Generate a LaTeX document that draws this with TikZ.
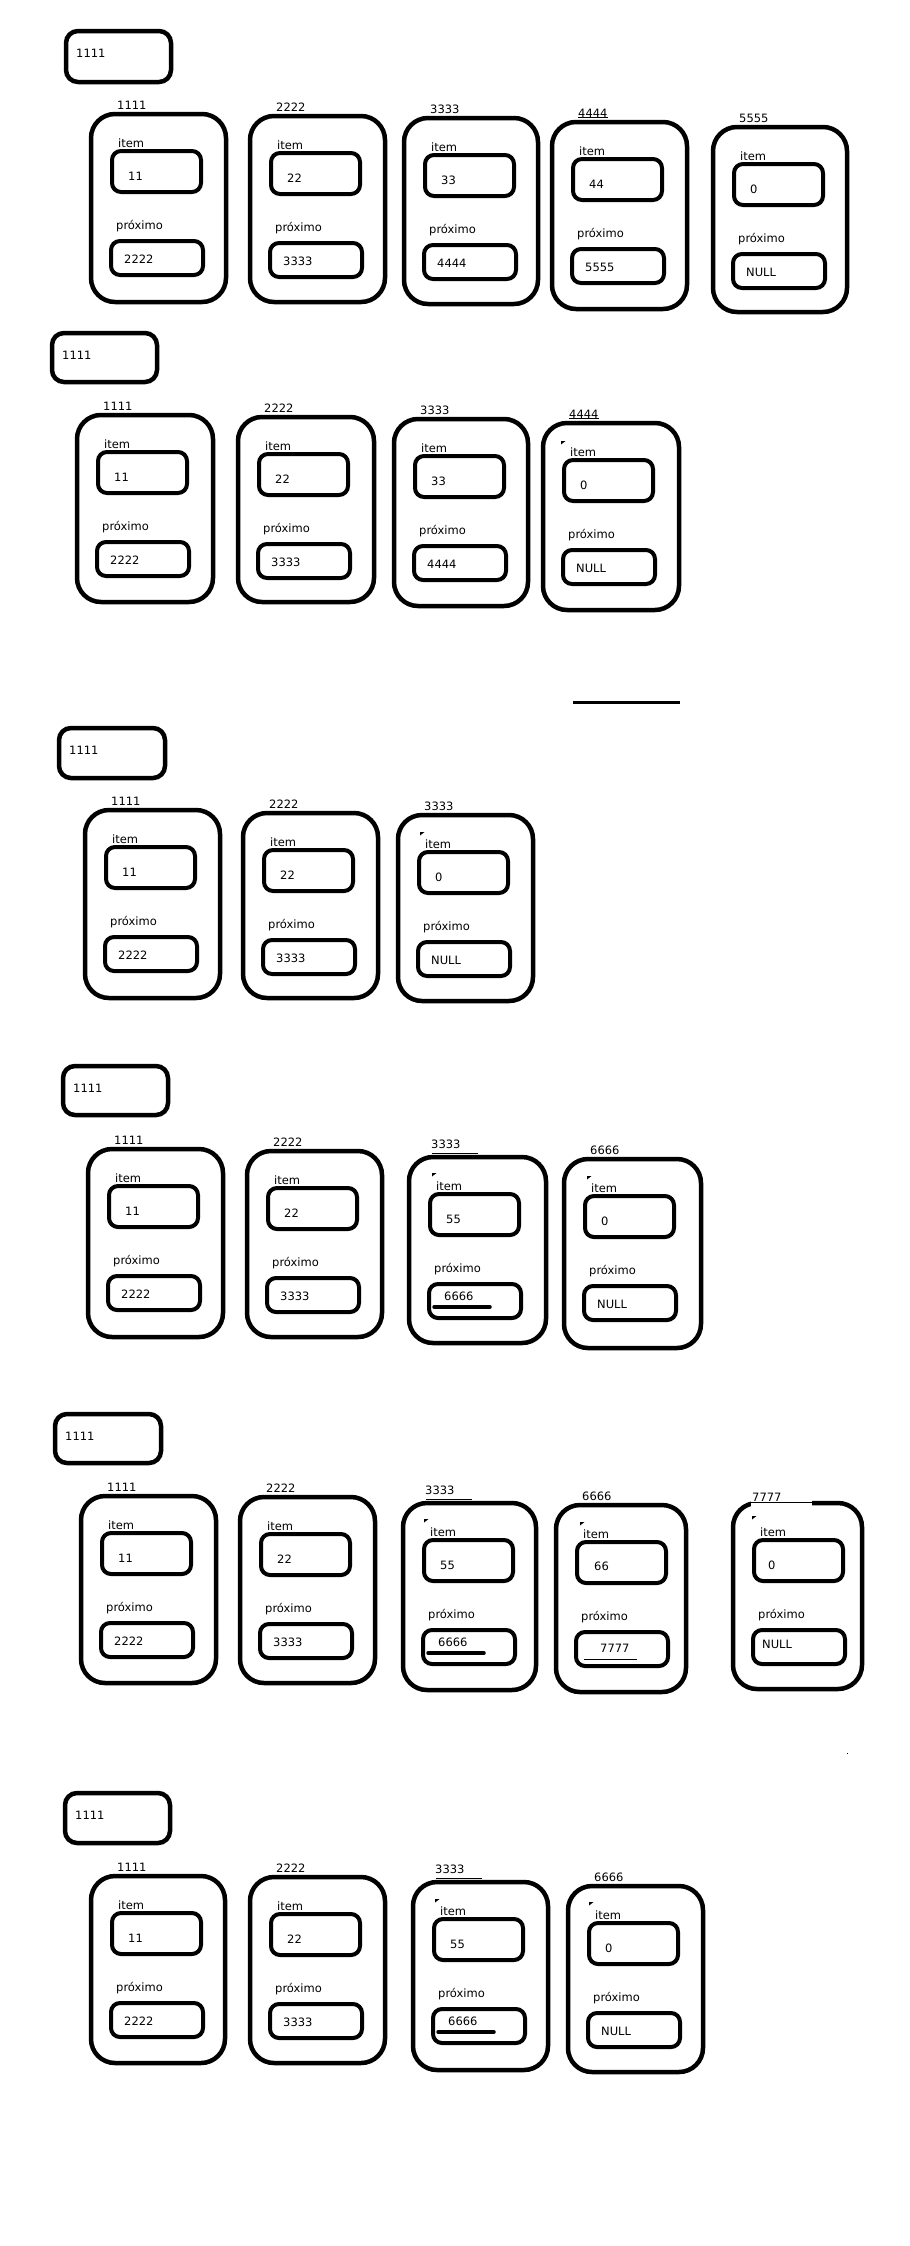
\documentclass[tikz,border=0pt]{standalone}
\usepackage{fontspec}
\setmainfont{DejaVu Sans}
\begin{document}
\begin{tikzpicture}[x=1pt,y=-1pt,
  every node/.style={font=\fontsize{11.5}{13}\selectfont},
  outerbox/.style={draw, line width=4.5pt, rounded corners=24pt, inner sep=0pt},
  innerbox/.style={draw, line width=4pt, rounded corners=9pt, inner sep=0pt},
  headbox/.style={draw, line width=4.5pt, rounded corners=12pt, inner sep=0pt},
  txt/.style={inner sep=0pt, anchor=base west},
  thinline/.style={line width=1pt},
  thickline/.style={line width=3.5pt, line cap=round}]
\useasboundingbox (0,0) rectangle (910,2246);
\fill[white] (0,0) rectangle (910,2246);

% name, x0, y0, w, h, label, item value, next value
\newcommand\cellframe[5]{%
  \node[outerbox, minimum width=#4pt, minimum height=#5pt] (#1) at ({#2+#4/2},{#3+#5/2}) {};
  \node[txt] (#1-it) at ({#2+27},{#3+33}) {item};
  \node[innerbox, minimum width=89pt, minimum height=41pt] (#1-ib) at ({#2+65.5},{#3+57.5}) {};
  \node[txt] (#1-pr) at ({#2+25},{#3+115}) {próximo};
  \node[innerbox, minimum width=92pt, minimum height=34pt] (#1-pb) at ({#2+66},{#3+144}) {};
}
\newcommand\cellbox[8]{%
  \cellframe{#1}{#2}{#3}{#4}{#5}
  \node[txt] (#1-lab) at ({#2+26},{#3-5}) {#6};
  \node[txt] (#1-iv) at ({#2+37},{#3+66}) {#7};
  \node[txt] (#1-pv) at ({#2+33},{#3+149}) {#8};
}
% variant with underlined label and thick underline under the next value
\newcommand\cellboxU[8]{%
  \cellframe{#1}{#2}{#3}{#4}{#5}
  \node[txt] (#1-lab) at ({#2+22},{#3-9}) {#6};
  \draw[thinline] ({#2+23},{#3-4}) -- ++(46,0);
  \node[txt] (#1-iv) at ({#2+37},{#3+66}) {#7};
  \node[txt] (#1-pv) at ({#2+35},{#3+143}) {#8};
  \draw[thickline] ({#2+25},{#3+150}) -- ++(56,0);
}
\newcommand\headbox[5]{%
  \node[headbox, minimum width={(#4-#2)*1pt}, minimum height={(#5-#3)*1pt}] (#1) at ({(#2+#4)/2},{(#3+#5)/2}) {};
  \node[txt] (#1-t) at ({#2+10},{#3+26}) {1111};
}
\newcommand\tickmark[2]{%
  \fill ({#1+21},{#2+16}) -- ++(4.5,0) -- ++(-4.5,3.5) -- cycle;
}

% ---------- row 1
\headbox{h1}{66}{31}{171}{82}
\cellbox{a1}{91}{114}{135}{188}{1111}{11}{2222}
\cellbox{a2}{250}{116}{135}{186}{2222}{22}{3333}
\cellbox{a3}{404}{118}{134}{186}{3333}{33}{4444}
\cellbox{a4}{552}{122}{135}{187}{4444}{44}{5555}
\draw[thinline] (a4-lab.base west) -- (a4-lab.base east);
\cellbox{a5}{713}{127}{134}{185}{5555}{0}{NULL}

% ---------- row 2
\headbox{h2}{52}{333}{157}{382}
\cellbox{b1}{77}{415}{136}{187}{1111}{11}{2222}
\cellbox{b2}{238}{417}{136}{185}{2222}{22}{3333}
\cellbox{b3}{394}{419}{134}{187}{3333}{33}{4444}
\cellbox{b4}{543}{423}{136}{187}{4444}{0}{NULL}
\draw[thinline] (b4-lab.base west) -- (b4-lab.base east);
\tickmark{540}{425}
\coordinate (L1) at (573,702);
\coordinate (L2) at (680,702);
\draw[line width=3pt] (L1) -- (L2);

% ---------- row 3
\headbox{h3}{59}{728}{165}{778}
\cellbox{c1}{85}{810}{135}{188}{1111}{11}{2222}
\cellbox{c2}{243}{813}{135}{185}{2222}{22}{3333}
\cellbox{c3}{398}{815}{135}{186}{3333}{0}{NULL}
\tickmark{399}{816}

% ---------- row 4
\headbox{h4}{63}{1066}{168}{1115}
\cellbox{d1}{88}{1149}{135}{188}{1111}{11}{2222}
\cellbox{d2}{247}{1151}{135}{186}{2222}{22}{3333}
\cellboxU{d3}{409}{1157}{137}{186}{3333}{55}{6666}
\tickmark{411}{1157}
\cellbox{d4}{564}{1159}{137}{189}{6666}{0}{NULL}
\tickmark{566}{1160}

% ---------- row 5
\headbox{h5}{55}{1414}{161}{1463}
\cellbox{e1}{81}{1496}{135}{187}{1111}{11}{2222}
\cellbox{e2}{240}{1497}{135}{186}{2222}{22}{3333}
\cellboxU{e3}{403}{1503}{133}{187}{3333}{55}{6666}
\tickmark{403}{1503}
\cellframe{e4}{556}{1505}{130}{187}
\node[txt] (e4-lab) at (582,1500) {6666};
\node[txt] (e4-iv) at (594,1570) {66};
\node[txt] (e4-pv) at (600,1652) {7777};
\draw[thinline] (584,1659) -- (637,1659);
\tickmark{559}{1506}
\cellframe{e5}{733}{1503}{129}{186}
\fill[white] (751,1499) rectangle (812,1507);
\draw[thinline] (751,1502.5) -- (813,1502.5);
\node[txt] (e5-lab) at (752,1501) {7777};
\node[txt] (e5-iv) at (768,1569) {0};
\node[txt] (e5-pv) at (762,1648) {NULL};
\tickmark{731}{1500}

% ---------- row 6
\headbox{h6}{65}{1793}{170}{1843}
\cellbox{f1}{91}{1876}{134}{187}{1111}{11}{2222}
\cellbox{f2}{250}{1877}{135}{186}{2222}{22}{3333}
\cellboxU{f3}{413}{1882}{135}{188}{3333}{55}{6666}
\tickmark{414}{1883}
\cellbox{f4}{568}{1886}{135}{186}{6666}{0}{NULL}
\tickmark{568}{1886}

\fill (846.5,1752.5) rectangle (848,1754);
\end{tikzpicture}
\end{document}
